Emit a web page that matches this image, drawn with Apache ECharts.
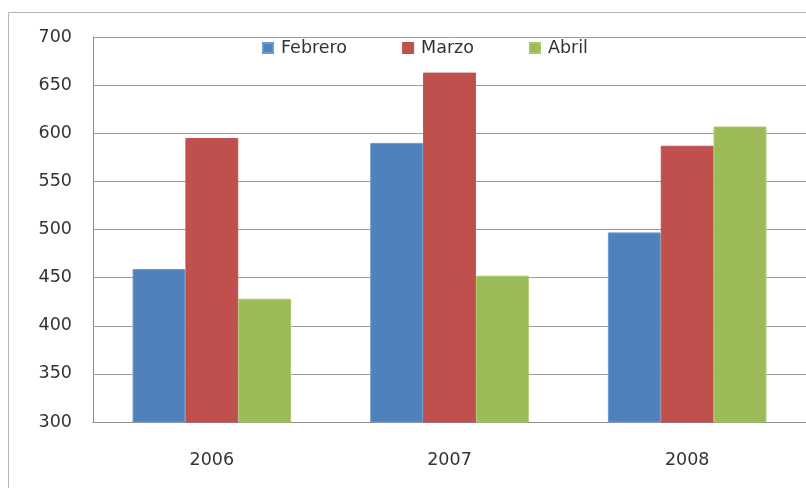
<!DOCTYPE html>
<html>
<head>
<meta charset="utf-8">
<script src="https://cdn.jsdelivr.net/npm/echarts@6/dist/echarts.min.js"></script>
<style>
  html, body { margin: 0; padding: 0; background: #fff; }
  #chart { width: 806px; height: 488px; }
</style>
</head>
<body>
<div id="chart"></div>
<script>
// Years on the category axis
const categories = ['2006', '2007', '2008'];

// Values per month
const febrero = [459, 590, 497];
const marzo = [595, 663, 587];
const abril = [428, 452, 607];

// Value axis range
const yMin = 300;
const yMax = 700;
const yStep = 50;

const font = 'DejaVu Sans';
const textColor = '#333333';

const chart = echarts.init(document.getElementById('chart'), null, { renderer: 'canvas' });

function barSeries(name, data, color, edge) {
  return {
    name: name,
    type: 'bar',
    data: data,
    barGap: '0%',
    barCategoryGap: '33.3%',
    itemStyle: { color: color, borderColor: edge, borderWidth: 1 },
    emphasis: { disabled: true }
  };
}

chart.setOption({
  animation: false,
  backgroundColor: '#fff',
  graphic: [{
    type: 'rect',
    shape: { x: 8.5, y: 12.5, width: 900, height: 600 },
    style: { fill: 'none', stroke: '#b4b4b4', lineWidth: 1 },
    silent: true,
    z: -1
  }],
  legend: {
    top: 34,
    left: 257,
    itemWidth: 10,
    itemHeight: 10,
    itemGap: 55,
    icon: 'rect',
    textStyle: { fontFamily: font, fontSize: 17.5, color: textColor, padding: [0, 0, 0, 3] },
    data: ['Febrero', 'Marzo', 'Abril']
  },
  grid: { left: 93, top: 37, width: 720, height: 385, containLabel: false },
  xAxis: {
    type: 'category',
    data: categories,
    axisLine: { lineStyle: { color: '#8c8c8c', width: 1 } },
    axisTick: { show: false },
    axisLabel: { fontFamily: font, fontSize: 17.5, color: textColor, margin: 29 }
  },
  yAxis: {
    type: 'value',
    min: yMin,
    max: yMax,
    interval: yStep,
    axisLine: { show: true, lineStyle: { color: '#8c8c8c', width: 1 } },
    axisTick: { show: false },
    splitLine: { lineStyle: { color: '#9e9e9e', width: 1 } },
    axisLabel: { fontFamily: font, fontSize: 17.5, color: textColor, margin: 21 }
  },
  series: [
    barSeries('Febrero', febrero, '#4f81bd', '#6f9ad0'),
    barSeries('Marzo', marzo, '#c0504d', '#c0504d'),
    barSeries('Abril', abril, '#9bbb59', '#a8c76a')
  ]
});
</script>
</body>
</html>
